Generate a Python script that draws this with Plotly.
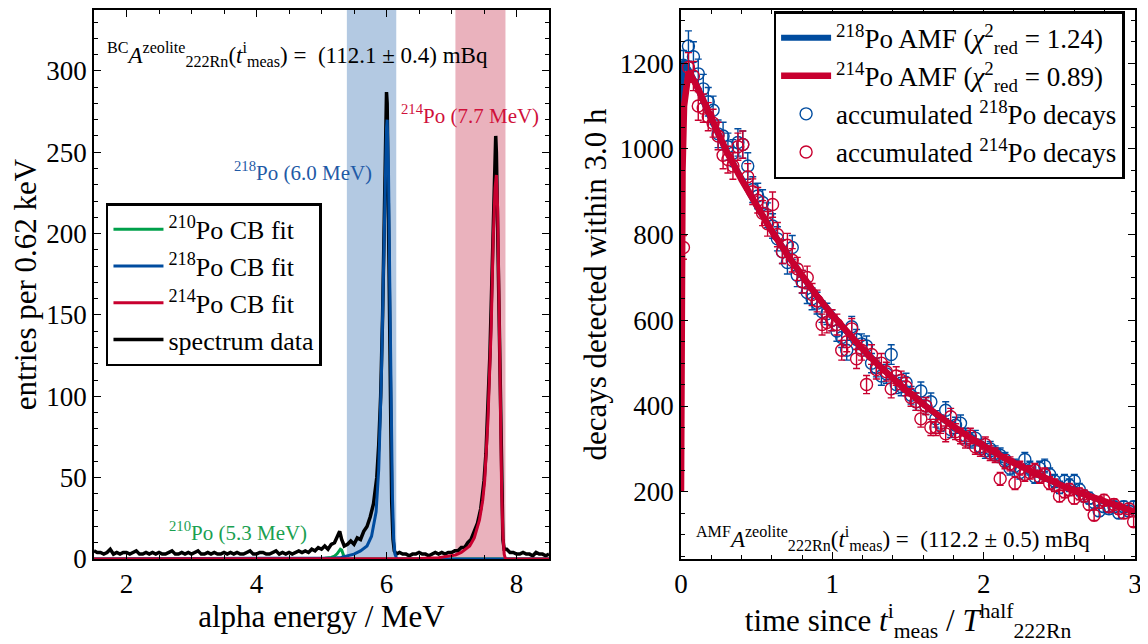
import numpy as np
import plotly.graph_objects as go

# ---------------- left panel data (alpha spectrum) ----------------
energy = [1.50, 1.55, 1.60, 1.65, 1.70, 1.75, 1.80, 1.85, 1.90, 1.95,
          2.00, 2.05, 2.10, 2.15, 2.20, 2.25, 2.30, 2.35, 2.40, 2.45,
          2.50, 2.55, 2.60, 2.65, 2.70, 2.75, 2.80, 2.85, 2.90, 2.95,
          3.00, 3.05, 3.10, 3.15, 3.20, 3.25, 3.30, 3.35, 3.40, 3.45,
          3.50, 3.55, 3.60, 3.65, 3.70, 3.75, 3.80, 3.85, 3.90, 3.95,
          4.00, 4.05, 4.10, 4.15, 4.20, 4.25, 4.30, 4.35, 4.40, 4.45,
          4.50, 4.55, 4.60, 4.65, 4.70, 4.75, 4.80, 4.85, 4.90, 4.95,
          5.00, 5.05, 5.10, 5.15, 5.20, 5.25, 5.28, 5.31, 5.35, 5.40,
          5.45, 5.50, 5.55, 5.60, 5.65, 5.70, 5.75, 5.80, 5.85, 5.88,
          5.91, 5.94, 5.97, 5.99, 6.00, 6.01, 6.02, 6.04, 6.06, 6.08,
          6.10, 6.12, 6.15, 6.20, 6.25, 6.30, 6.35, 6.40, 6.45, 6.50,
          6.55, 6.60, 6.65, 6.70, 6.75, 6.80, 6.85, 6.90, 6.95, 7.00,
          7.05, 7.10, 7.15, 7.20, 7.25, 7.30, 7.35, 7.40, 7.45, 7.50,
          7.53, 7.56, 7.59, 7.62, 7.65, 7.67, 7.68, 7.69, 7.71, 7.73,
          7.75, 7.77, 7.79, 7.81, 7.85, 7.90, 7.95, 8.00, 8.05, 8.10,
          8.15, 8.20, 8.25, 8.30, 8.35, 8.40, 8.45, 8.50]
counts = [5, 4, 4, 3, 4, 6, 3, 4, 3, 4,
          4, 3, 4, 5, 3, 3, 4, 3, 4, 3,
          4, 3, 3, 4, 5, 3, 3, 4, 3, 4,
          3, 4, 5, 3, 3, 4, 3, 4, 3, 3,
          4, 3, 4, 3, 4, 3, 3, 4, 5, 3,
          3, 4, 4, 3, 3, 4, 5, 3, 4, 3,
          4, 3, 4, 5, 4, 5, 4, 6, 5, 7,
          6, 8, 6, 9, 10, 14, 17, 12, 8, 9,
          11, 9, 13, 12, 17, 20, 26, 34, 50, 70,
          100, 150, 210, 260, 287, 280, 240, 160, 80, 35,
          12, 5, 3, 4, 3, 3, 2, 3, 3, 4,
          3, 3, 2, 3, 4, 3, 4, 3, 4, 4,
          5, 5, 7, 7, 10, 12, 17, 22, 31, 48,
          65, 90, 125, 170, 225, 255, 260, 250, 200, 140,
          80, 35, 12, 6, 6, 4, 4, 3, 3, 4,
          3, 3, 2, 4, 3, 3, 2, 3]

po210_E = [1.5, 4.9, 5.05, 5.15, 5.2, 5.24, 5.27, 5.29, 5.31, 5.33, 5.35, 5.37, 5.4, 8.5]
po210_fit = [0, 0.1, 0.4, 1.0, 1.8, 3.2, 5.0, 6.0, 5.5, 3.0, 1.0, 0.2, 0, 0]

po218_E = [1.5, 5.0, 5.2, 5.3, 5.4, 5.5, 5.6, 5.7, 5.77, 5.84, 5.88, 5.92, 5.95, 5.98,
           6.0, 6.01, 6.03, 6.05, 6.07, 6.09, 6.11, 6.13, 6.16, 8.5]
po218_fit = [0, 0.2, 0.6, 1.0, 1.8, 3, 5, 8, 14, 29, 55, 110, 170, 235,
             265, 270, 240, 170, 95, 40, 12, 3, 0, 0]

po214_E = [1.5, 6.5, 6.8, 7.0, 7.06, 7.15, 7.28, 7.35, 7.43, 7.48, 7.51, 7.56, 7.61,
           7.64, 7.67, 7.69, 7.71, 7.73, 7.75, 7.77, 7.79, 7.81, 7.83, 8.5]
po214_fit = [0, 0.3, 0.8, 1.8, 2.5, 4, 8, 13, 24, 36, 48, 85, 142,
             195, 228, 236, 215, 160, 95, 45, 15, 3, 0, 0]

band218 = [5.39, 6.15]
band214 = [7.06, 7.83]

# ---------------- right panel data (decay curve) ----------------
t_bins = [0.016, 0.049, 0.082, 0.114, 0.147, 0.180, 0.212, 0.245, 0.278, 0.310,
          0.343, 0.376, 0.408, 0.441, 0.474, 0.507, 0.539, 0.572, 0.605, 0.637,
          0.670, 0.703, 0.735, 0.768, 0.801, 0.834, 0.866, 0.899, 0.932, 0.964,
          0.997, 1.030, 1.062, 1.095, 1.128, 1.160, 1.193, 1.226, 1.259, 1.291,
          1.324, 1.357, 1.389, 1.422, 1.455, 1.487, 1.520, 1.553, 1.585, 1.618,
          1.651, 1.684, 1.716, 1.749, 1.782, 1.814, 1.847, 1.880, 1.912, 1.945,
          1.978, 2.011, 2.043, 2.076, 2.109, 2.141, 2.174, 2.207, 2.239, 2.272,
          2.305, 2.338, 2.370, 2.403, 2.436, 2.468, 2.501, 2.534, 2.566, 2.599,
          2.632, 2.664, 2.697, 2.730, 2.763, 2.795, 2.828, 2.861, 2.893, 2.926,
          2.959, 2.991]
po218_counts = [1195, 1240, 1215, 1175, 1140, 1110, 1090, 1035, 1030, 1005,
                990, 1015, 1010, 960, 905, 890, 875, 845, 820, 790,
                760, 735, 770, 705, 690, 665, 650, 640, 620, 615,
                600, 575, 560, 530, 585, 555, 545, 540, 500, 490,
                470, 475, 520, 450, 445, 455, 425, 410, 435, 400,
                410, 370, 360, 390, 345, 355, 360, 330, 320, 325,
                305, 295, 300, 290, 285, 275, 255, 260, 245, 275,
                255, 235, 255, 260, 240, 225, 210, 225, 215, 225,
                205, 190, 185, 175, 155, 165, 160, 165, 150, 165,
                155, 165]
po214_counts = [770, 1190, 1170, 1100, 1095, 1075, 1060, 1030, 985, 975,
                960, 1005, 1010, 935, 900, 880, 850, 825, 870, 800,
                760, 775, 740, 720, 690, 700, 660, 645, 590, 595,
                600, 590, 530, 550, 580, 510, 530, 450, 520, 485,
                500, 480, 440, 470, 460, 445, 420, 410, 370, 400,
                350, 350, 355, 335, 375, 340, 330, 320, 330, 305,
                300, 310, 290, 285, 230, 270, 265, 220, 255, 240,
                245, 250, 235, 240, 220, 215, 190, 200, 205, 185,
                195, 190, 170, 145, 175, 180, 165, 170, 160, 150,
                160, 130]

amf_t = [0.0, 0.005, 0.01, 0.02, 0.035, 0.05, 0.1, 0.2, 0.3, 0.4, 0.5, 0.6, 0.7,
         0.8, 0.9, 1.0, 1.1, 1.2, 1.3, 1.4, 1.5, 1.6, 1.7, 1.8, 1.9, 2.0,
         2.1, 2.2, 2.3, 2.4, 2.5, 2.6, 2.7, 2.8, 2.9, 3.0]
amf218 = [1100, 1180, 1205, 1200, 1193, 1185, 1150, 1068, 995, 928, 866, 808, 754,
          703, 656, 612, 571, 533, 497, 464, 433, 404, 377, 352, 328, 306,
          286, 267, 249, 232, 217, 202, 189, 176, 164, 153]
amf214 = [200, 700, 950, 1100, 1160, 1180, 1150, 1068, 995, 928, 866, 808, 754,
          703, 656, 612, 571, 533, 497, 464, 433, 404, 377, 352, 328, 306,
          286, 267, 249, 232, 217, 202, 189, 176, 164, 153]

GREEN = "#00a04b"
BLUE = "#004c9f"
RED = "#c8002f"
FONT = "Liberation Serif"

fig = go.Figure()

# left panel traces
fig.add_trace(go.Scatter(x=energy, y=counts, mode="lines", line=dict(color="black", width=3.5),
                         name="spectrum data", legend="legend", legendrank=4,
                         xaxis="x", yaxis="y"))
fig.add_trace(go.Scatter(x=po210_E, y=po210_fit, mode="lines", line=dict(color=GREEN, width=3),
                         name="<sup>210</sup>Po CB fit", legend="legend", legendrank=1,
                         xaxis="x", yaxis="y"))
fig.add_trace(go.Scatter(x=po218_E, y=po218_fit, mode="lines", line=dict(color=BLUE, width=3),
                         name="<sup>218</sup>Po CB fit", legend="legend", legendrank=2,
                         xaxis="x", yaxis="y"))
fig.add_trace(go.Scatter(x=po214_E, y=po214_fit, mode="lines", line=dict(color=RED, width=3),
                         name="<sup>214</sup>Po CB fit", legend="legend", legendrank=3,
                         xaxis="x", yaxis="y"))

# right panel traces
fig.add_trace(go.Scatter(x=amf_t, y=amf218, mode="lines", line=dict(color=BLUE, width=6),
                         name="<sup>218</sup>Po AMF (<i>χ</i><sup>2</sup><sub>red</sub> = 1.24)",
                         legend="legend2", legendrank=1, xaxis="x2", yaxis="y2"))
fig.add_trace(go.Scatter(x=t_bins, y=po218_counts, mode="markers",
                         marker=dict(symbol="circle-open", size=12, color=BLUE, line=dict(width=1.4)),
                         error_y=dict(type="data", array=np.sqrt(po218_counts), color=BLUE,
                                      thickness=1.4, width=3.5),
                         name="accumulated <sup>218</sup>Po decays",
                         legend="legend2", legendrank=3, xaxis="x2", yaxis="y2"))
fig.add_trace(go.Scatter(x=t_bins, y=po214_counts, mode="markers",
                         marker=dict(symbol="circle-open", size=12, color=RED, line=dict(width=1.4)),
                         error_y=dict(type="data", array=np.sqrt(po214_counts), color=RED,
                                      thickness=1.4, width=3.5),
                         name="accumulated <sup>214</sup>Po decays",
                         legend="legend2", legendrank=4, xaxis="x2", yaxis="y2"))
fig.add_trace(go.Scatter(x=amf_t, y=amf214, mode="lines", line=dict(color=RED, width=6.5),
                         name="<sup>214</sup>Po AMF (<i>χ</i><sup>2</sup><sub>red</sub> = 0.89)",
                         legend="legend2", legendrank=2, xaxis="x2", yaxis="y2"))

shapes = [
    dict(type="rect", xref="x", yref="y domain", x0=band218[0], x1=band218[1], y0=0, y1=1,
         fillcolor="#b3c9e2", line=dict(width=0), layer="below"),
    dict(type="rect", xref="x", yref="y domain", x0=band214[0], x1=band214[1], y0=0, y1=1,
         fillcolor="#eab2bd", line=dict(width=0), layer="below"),
]

annotations = [
    dict(x=4.635, y=310, xref="x", yref="y", showarrow=False,
         text="<sup>BC</sup><i>A</i><sup>zeolite</sup><sub>222Rn</sub>(<i>t</i><sup>i</sup><sub>meas</sub>) =  (112.1 ± 0.4) mBq",
         font=dict(size=23, color="black", family=FONT)),
    dict(x=4.72, y=238, xref="x", yref="y", showarrow=False,
         text="<sup>218</sup>Po (6.0 MeV)", font=dict(size=21, color="#1f5aa6", family=FONT)),
    dict(x=7.29, y=273, xref="x", yref="y", showarrow=False,
         text="<sup>214</sup>Po (7.7 MeV)", font=dict(size=21, color="#d0103a", family=FONT)),
    dict(x=3.71, y=17, xref="x", yref="y", showarrow=False,
         text="<sup>210</sup>Po (5.3 MeV)", font=dict(size=21, color="#1aa050", family=FONT)),
    dict(x=1.40, y=92, xref="x2", yref="y2", showarrow=False,
         text="<sup>AMF</sup><i>A</i><sup>zeolite</sup><sub>222Rn</sub>(<i>t</i><sup>i</sup><sub>meas</sub>) =  (112.2 ± 0.5) mBq",
         font=dict(size=23, color="black", family=FONT)),
]

axis_common = dict(showline=True, mirror="ticks", linecolor="black", linewidth=1.5,
                   ticks="inside", ticklen=7, tickwidth=1.2, tickcolor="black",
                   showgrid=False, zeroline=False,
                   tickfont=dict(size=27, color="black", family=FONT))
title_font = dict(size=31, color="black", family=FONT)

fig.update_layout(
    width=1148, height=644,
    margin=dict(l=86, r=21, t=0, b=93),
    paper_bgcolor="white", plot_bgcolor="white",
    font=dict(family=FONT, color="black", size=24),
    shapes=shapes, annotations=annotations,
    xaxis=dict(domain=[0, 0.4371], range=[1.5, 8.5], dtick=2, tick0=0,
               minor=dict(dtick=0.5, ticklen=4, ticks="inside", tickcolor="black"),
               title=dict(text="alpha energy / MeV", font=title_font, standoff=6),
               anchor="y", **axis_common),
    yaxis=dict(domain=[0, 1], range=[0, 337.4], dtick=50, tick0=0,
               minor=dict(dtick=10, ticklen=4, ticks="inside", tickcolor="black"),
               title=dict(text="entries per 0.62 keV", font=title_font, standoff=4),
               anchor="x", **axis_common),
    xaxis2=dict(domain=[0.5639, 1], range=[0, 3], dtick=1, tick0=0,
                minor=dict(dtick=0.2, ticklen=4, ticks="inside", tickcolor="black"),
                title=dict(text="time since <i>t</i><sup>i</sup><sub>meas</sub> / <i>T</i><sup>half</sup><sub>222Rn</sub>",
                           font=title_font, standoff=2),
                anchor="y2", **axis_common),
    yaxis2=dict(domain=[0, 1], range=[43, 1324], dtick=200, tick0=0,
                minor=dict(dtick=50, ticklen=4, ticks="inside", tickcolor="black"),
                title=dict(text="decays detected within 3.0 h", font=title_font, standoff=4),
                anchor="x2", **axis_common),
    legend=dict(x=0.0115, y=0.648, xanchor="left", yanchor="top",
                bgcolor="white", bordercolor="black", borderwidth=2.5,
                font=dict(size=26, family=FONT, color="black"), itemwidth=50, tracegroupgap=0),
    legend2=dict(x=0.990, y=0.998, xanchor="right", yanchor="top",
                 bgcolor="white", bordercolor="black", borderwidth=2.5,
                 font=dict(size=27, family=FONT, color="black"), itemwidth=50, tracegroupgap=0),
    showlegend=True,
)

fig.write_html("out.html", config={"displayModeBar": False})
